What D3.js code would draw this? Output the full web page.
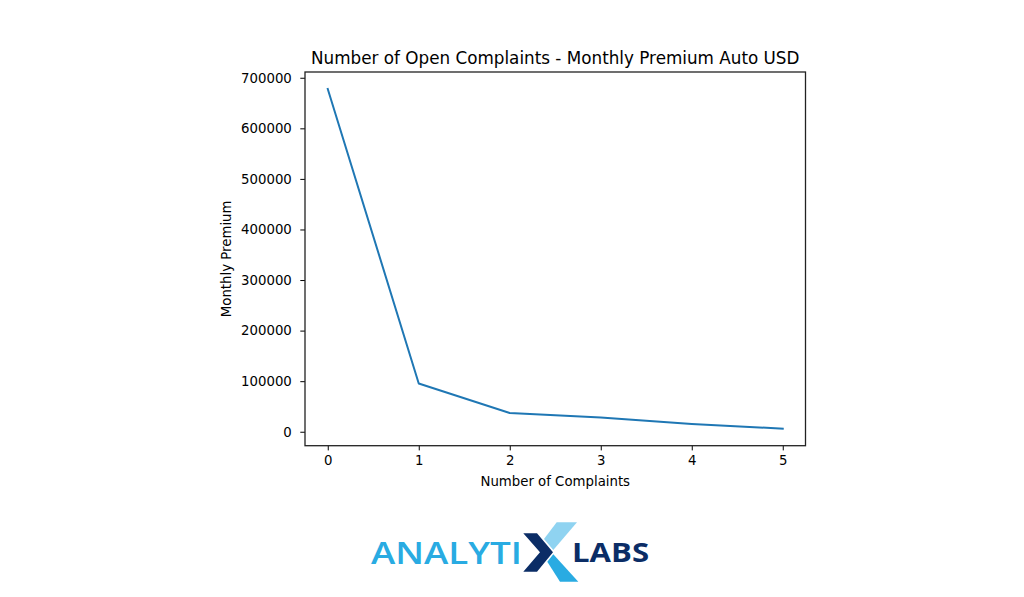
<!DOCTYPE html>
<html>
<head>
<meta charset="utf-8">
<script src="https://cdn.jsdelivr.net/npm/d3@7"></script>
<style>
  body { margin: 0; background: #fff; }
  svg { display: block; }
  .tick text { font-family: "DejaVu Sans", sans-serif; font-size: 13.3px; fill: #000; }
  .tick line { stroke: #000; }
</style>
</head>
<body>
<div id="chart"></div>
<script>
// data
var complaints = [0, 1, 2, 3, 4, 5];
var premium = [677800, 95500, 37000, 28000, 15500, 6000];
var yTicks = [0, 100000, 200000, 300000, 400000, 500000, 600000, 700000];

var W = 1024, H = 597;
var plotLeft = 305, plotRight = 805.5, plotTop = 72, plotBottom = 445.7;

var svg = d3.select('#chart').append('svg')
  .attr('width', W)
  .attr('height', H);

// matplotlib-style 5% margins
var xExt = d3.extent(complaints), yExt = d3.extent(premium);
var xPad = (xExt[1] - xExt[0]) * 0.05, yPad = (yExt[1] - yExt[0]) * 0.05;

var x = d3.scaleLinear()
  .domain([xExt[0] - xPad, xExt[1] + xPad])
  .range([plotLeft, plotRight]);

var y = d3.scaleLinear()
  .domain([yExt[0] - yPad, yExt[1] + yPad])
  .range([plotBottom, plotTop]);

var xAxis = svg.append('g')
  .attr('transform', 'translate(0,' + plotBottom + ')')
  .call(d3.axisBottom(x).tickValues(complaints).tickFormat(d3.format('d')).tickSize(4.7).tickPadding(5));
xAxis.select('.domain').remove();

var yAxis = svg.append('g')
  .attr('transform', 'translate(' + plotLeft + ',0)')
  .call(d3.axisLeft(y).tickValues(yTicks).tickFormat(d3.format('d')).tickSize(4.7).tickPadding(8.5));
yAxis.select('.domain').remove();

// the line
var line = d3.line()
  .x(function (d, i) { return x(complaints[i]); })
  .y(function (d) { return y(d); });

svg.append('path')
  .datum(premium)
  .attr('d', line)
  .attr('fill', 'none')
  .attr('stroke', '#1f77b4')
  .attr('stroke-width', 2)
  .attr('stroke-linejoin', 'round')
  .attr('stroke-linecap', 'square');

// frame
svg.append('rect')
  .attr('x', plotLeft)
  .attr('y', plotTop)
  .attr('width', plotRight - plotLeft)
  .attr('height', plotBottom - plotTop)
  .attr('fill', 'none')
  .attr('stroke', '#222')
  .attr('stroke-width', 1.3);

// titles
svg.append('text')
  .attr('x', (plotLeft + plotRight) / 2)
  .attr('y', 63.5)
  .attr('text-anchor', 'middle')
  .attr('font-family', 'DejaVu Sans')
  .attr('font-size', '16.8px')
  .text('Number of Open Complaints - Monthly Premium Auto USD');

svg.append('text')
  .attr('x', (plotLeft + plotRight) / 2)
  .attr('y', 486)
  .attr('text-anchor', 'middle')
  .attr('font-family', 'DejaVu Sans')
  .attr('font-size', '13.3px')
  .text('Number of Complaints');

svg.append('text')
  .attr('transform', 'translate(231,' + (plotTop + plotBottom) / 2 + ') rotate(-90)')
  .attr('text-anchor', 'middle')
  .attr('font-family', 'DejaVu Sans')
  .attr('font-size', '13.3px')
  .text('Monthly Premium');

// logo
var logo = svg.append('g');
logo.append('text')
  .attr('x', 371)
  .attr('y', 563.5)
  .attr('font-family', 'Open Sans')
  .attr('font-weight', 600)
  .attr('font-size', '30px')
  .attr('fill', '#29abe2')
  .attr('textLength', 151)
  .attr('lengthAdjust', 'spacingAndGlyphs')
  .text('ANALYTI');

logo.append('polygon')
  .attr('points', '556.7,522.3 577,522.3 553.3,550 544,539')
  .attr('fill', '#8fd3f1');
logo.append('polygon')
  .attr('points', '547.3,561.7 553.3,554.3 578.3,581.7 560,581.7')
  .attr('fill', '#29abe2');
logo.append('polygon')
  .attr('points', '523.3,533.3 537,533.3 553,552.3 537,571.7 523.3,571.7 540,552.3')
  .attr('fill', '#0b2d66');

logo.append('text')
  .attr('x', 572)
  .attr('y', 561.7)
  .attr('font-family', 'Open Sans')
  .attr('font-weight', 700)
  .attr('font-size', '26px')
  .attr('fill', '#0b2d66')
  .attr('textLength', 77)
  .attr('lengthAdjust', 'spacingAndGlyphs')
  .text('LABS');
</script>
</body>
</html>
